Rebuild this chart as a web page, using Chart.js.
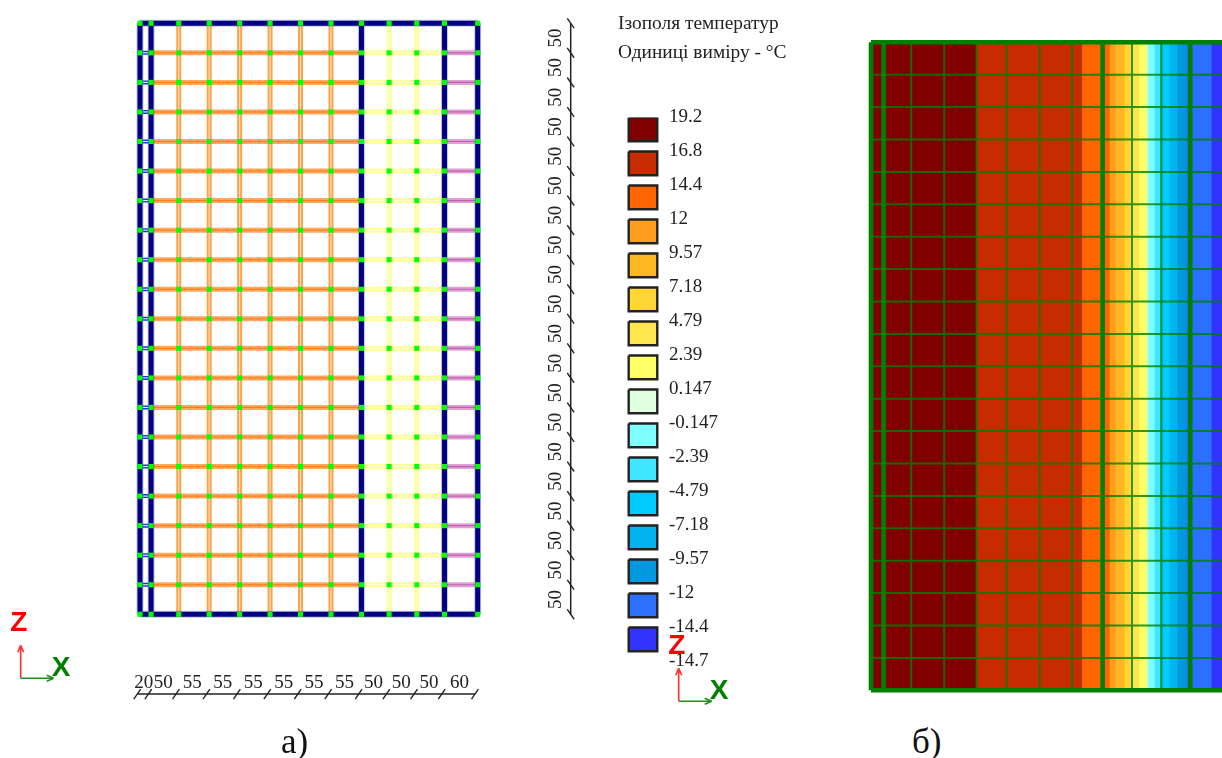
<!DOCTYPE html>
<html lang="uk">
<head>
<meta charset="utf-8">
<title>Ізополя температур</title>
<script src="https://cdn.jsdelivr.net/npm/chart.js@4"></script>
<style>
    html, body { margin: 0; padding: 0; background: #fff; }
    #page { position: relative; width: 1222px; height: 758px; overflow: hidden; font-family: "Liberation Serif", serif; color: #222; }
    #page canvas { position: absolute; }
    .text { position: absolute; white-space: nowrap; }
    #legendTitle { left: 618px; top: 8px; font-size: 19.4px; line-height: 29px; }
    .caption { top: 718px; font-size: 35px; line-height: 48px; color: #111; }
</style>
</head>
<body>
<div id="page">
    <canvas id="frameChart" width="500" height="720" style="left:100px;top:0"></canvas>
    <canvas id="fieldChart" width="362" height="670" style="left:860px;top:30px"></canvas>
    <canvas id="legendChart" width="200" height="700" style="left:600px;top:0"></canvas>
    <canvas id="axesLeft" width="90" height="90" style="left:0;top:600px"></canvas>
    <canvas id="axesRight" width="90" height="90" style="left:658px;top:623px"></canvas>
    <div class="text" id="legendTitle">Ізополя температур<br>Одиниці виміру - °C</div>
    <div class="text caption" style="left:281px">а)</div>
    <div class="text caption" style="left:912px">б)</div>
</div>
<script>
// spans of the frame, cm (dimension chains of picture a)
const xSpans = [20, 50, 55, 55, 55, 55, 55, 55, 50, 50, 50, 60];
const zSpans = [50, 50, 50, 50, 50, 50, 50, 50, 50, 50, 50, 50, 50, 50, 50, 50, 50, 50, 50, 50];

// legend
const legendLabels = ["19.2", "16.8", "14.4", "12", "9.57", "7.18", "4.79", "2.39", "0.147", "-0.147", "-2.39", "-4.79", "-7.18", "-9.57", "-12", "-14.4", "-14.7"];
const legendColors = ["#800000", "#c62c00", "#ff6600", "#ff9e1c", "#ffb822", "#ffd633", "#ffe64d", "#ffff66", "#e0ffe0", "#80ffff", "#40e6ff", "#00ccff", "#00b4f0", "#0099dd", "#2b70ff", "#3333ff"];

// temperature field of picture b: where each band ends, cm along x
const bandEnds = [176, 352, 398, 408, 423, 433, 447, 461, 461, 473, 482, 498, 511, 526, 568, 640];
// mesh of picture b, cm along x
const meshColumns = [0, 21, 67, 122, 176, 226, 281, 335, 386, 435, 484, 532, 592];
const heavyColumns = [0, 21, 386, 532];

const navy = "#000080";
const ink = "#222222";

function cumulative(spans) {
    let out = [0];
    spans.forEach(function (s) { out.push(out[out.length - 1] + s); });
    return out;
}

const xNodes = cumulative(xSpans);
const zNodes = cumulative(zSpans);
const zTop = zNodes[zNodes.length - 1];

// points of several separate pieces, broken with NaN
function pieces(list) {
    let out = [];
    list.forEach(function (p) {
        out.push({ x: p[0], y: p[1] }, { x: p[2], y: p[3] }, { x: NaN, y: NaN });
    });
    return out;
}

function rowsBetween(x0, x1) {
    return zNodes.slice(1, -1).map(function (z) { return [x0, z, x1, z]; });
}

function columnsAt(indexes) {
    return indexes.map(function (i) { return [xNodes[i], 0, xNodes[i], zTop]; });
}

function member(list, color, width) {
    return { data: pieces(list), showLine: true, borderColor: color, borderWidth: width, pointRadius: 0, borderCapStyle: "butt" };
}

// draws text through the chart's own scales
function textPlugin(labels) {
    return {
        id: "textMarks",
        afterDatasetsDraw(chart) {
            const ctx = chart.ctx;
            labels.forEach(function (l) {
                ctx.save();
                ctx.translate(chart.scales.x.getPixelForValue(l.x), chart.scales.y.getPixelForValue(l.y));
                if (l.upright) ctx.rotate(-Math.PI / 2);
                ctx.font = l.font;
                ctx.fillStyle = l.color;
                ctx.textAlign = "center";
                ctx.textBaseline = "middle";
                ctx.fillText(l.text, 0, 0);
                ctx.restore();
            });
        }
    };
}

function hiddenScale(min, max) {
    return { type: "linear", display: false, min: min, max: max };
}

function baseOptions(scales) {
    return {
        responsive: false,
        animation: false,
        events: [],
        layout: { padding: 0, autoPadding: false },
        plugins: { legend: { display: false }, tooltip: { enabled: false } },
        scales: scales
    };
}

function drawFrameChart() {
    const chainX = -135;   // z of the horizontal dimension chain
    const chainZ = 778;    // x of the vertical dimension chain
    const lastX = xNodes[xNodes.length - 1];

    const nodes = [];
    xNodes.forEach(function (x) {
        zNodes.forEach(function (z) { nodes.push({ x: x, y: z }); });
    });

    const labels = [];
    xSpans.forEach(function (s, i) {
        labels.push({ x: xNodes[i] + s / 2 - 3, y: -117, text: String(s), font: "19px 'Liberation Serif'", color: ink });
    });
    zSpans.forEach(function (s, i) {
        labels.push({ x: 752, y: zNodes[i] + s / 2, text: String(s), font: "19px 'Liberation Serif'", color: ink, upright: true });
    });

    const frame = [[0, 0, lastX, 0], [0, zTop, lastX, zTop]].concat(columnsAt([0, 1, 8, 11, 12]));

    const datasets = [
        { data: nodes, pointStyle: "rect", pointRadius: 3.6, pointBackgroundColor: "#00ff00", pointBorderWidth: 0 },
        member(frame, navy, 5),
        member(frame, "rgba(90,90,190,0.35)", 7),
        member(columnsAt([2, 3, 4, 5, 6, 7]), "#ffe8d0", 1),
        member(columnsAt([2, 3, 4, 5, 6, 7]), "#ffa24a", 5),
        member(columnsAt([9, 10]), "#ffffd8", 1),
        member(columnsAt([9, 10]), "#ffff99", 5),
        member(rowsBetween(xNodes[0], xNodes[1]), "#ffffff", 1),
        member(rowsBetween(xNodes[0], xNodes[1]), "#2a2aff", 4),
        member(rowsBetween(xNodes[1], xNodes[8]), "#ff7a10", 1),
        member(rowsBetween(xNodes[1], xNodes[8]), "#ffa860", 5),
        member(rowsBetween(xNodes[8], xNodes[11]), "#ffffd8", 1),
        member(rowsBetween(xNodes[8], xNodes[11]), "#ffff99", 5),
        member(rowsBetween(xNodes[11], lastX), "#c060b0", 1.2),
        member(rowsBetween(xNodes[11], lastX), "#e0a0d4", 5),
        {
            data: xNodes.map(function (x) { return { x: x - 5, y: chainX }; }),
            showLine: true, borderColor: ink, borderWidth: 1.5,
            pointStyle: "line", pointRadius: 6, pointRotation: -55, pointBorderColor: ink, pointBorderWidth: 1.4
        },
        {
            data: zNodes.map(function (z) { return { x: chainZ, y: z }; }),
            showLine: true, borderColor: ink, borderWidth: 1.5,
            pointStyle: "line", pointRadius: 6, pointRotation: 55, pointBorderColor: ink, pointBorderWidth: 1.4
        }
    ];

    new Chart(document.getElementById("frameChart"), {
        type: "scatter",
        data: { datasets: datasets },
        options: baseOptions({ x: hiddenScale(-72.25, 830.93), y: hiddenScale(-178.8, 1039.4) }),
        plugins: [textPlugin(labels)]
    });
}

function drawFieldChart() {
    const meshThin = "rgba(0,128,0,0.8)";
    const green = "#008000";
    const right = meshColumns[meshColumns.length - 1];

    const thinColumns = meshColumns.filter(function (x) { return heavyColumns.indexOf(x) < 0; });
    const columns = function (list) { return list.map(function (x) { return [x, 0, x, zTop]; }); };

    const datasets = [
        member(columns(heavyColumns).concat([[0, 0, right, 0], [0, zTop, right, zTop]]), green, 4.6),
        member(columns(thinColumns).concat(rowsBetween(0, right)), meshThin, 2)
    ];

    // each band is filled from the left edge, the left ones lie on top
    bandEnds.forEach(function (end, i) {
        datasets.push({
            data: [{ x: 0, y: zTop }, { x: end, y: zTop }],
            showLine: true, borderWidth: 0, pointRadius: 0,
            fill: "origin", backgroundColor: legendColors[i]
        });
    });

    new Chart(document.getElementById("fieldChart"), {
        type: "scatter",
        data: { datasets: datasets },
        options: baseOptions({ x: hiddenScale(-18.33, 585), y: hiddenScale(-15, 1019) })
    });
}

function drawLegendChart() {
    const datasets = legendColors.map(function (color, i) {
        return {
            data: [{ x: 0, y: i }, { x: 1, y: i }, { x: 1, y: i + 0.7 }, { x: 0, y: i + 0.7 }, { x: 0, y: i }],
            showLine: true, pointRadius: 0,
            borderColor: "#222", borderWidth: 2.4,
            fill: "shape", backgroundColor: color
        };
    });

    const options = baseOptions({
        x: hiddenScale(-1.003, 1.41),
        y: {
            type: "linear",
            position: "right",
            reverse: true,
            min: 0,
            max: legendLabels.length - 1,
            grid: { display: false, drawTicks: false },
            border: { display: false },
            afterFit(scale) { scale.width = 131; },
            ticks: {
                stepSize: 1,
                autoSkip: false,
                padding: 0,
                crossAlign: "near",
                color: ink,
                font: { family: "'Liberation Serif'", size: 19 },
                callback: function (value) { return legendLabels[value]; }
            }
        }
    });
    options.layout.padding = { top: 117.5, bottom: 38.5 };

    new Chart(document.getElementById("legendChart"), {
        type: "scatter",
        data: { datasets: datasets },
        options: options
    });
}

// small Z / X triad
function drawAxesTriad(id) {
    const len = 33;
    const head = 7;
    const datasets = [
        member([[0, 0, 0, len], [0, len, -3, len - head], [0, len, 3, len - head]], "#ff3030", 1.6),
        member([[0, 0, len, 0], [len, 0, len - head, 3], [len, 0, len - head, -3]], "#209020", 1.6)
    ];
    const labels = [
        { x: -2, y: 55, text: "Z", font: "bold 28px 'Liberation Sans'", color: "#ff0000" },
        { x: 40.5, y: 10, text: "X", font: "bold 28px 'Liberation Sans'", color: "#008000" }
    ];
    new Chart(document.getElementById(id), {
        type: "scatter",
        data: { datasets: datasets },
        options: baseOptions({ x: hiddenScale(-20.7, 69.3), y: hiddenScale(-11.7, 78.3) }),
        plugins: [textPlugin(labels)]
    });
}

document.addEventListener("DOMContentLoaded", function () {
    Chart.defaults.font.family = "'Liberation Serif'";
    drawFrameChart();
    drawFieldChart();
    drawLegendChart();
    drawAxesTriad("axesLeft");
    drawAxesTriad("axesRight");
});
</script>
</body>
</html>
